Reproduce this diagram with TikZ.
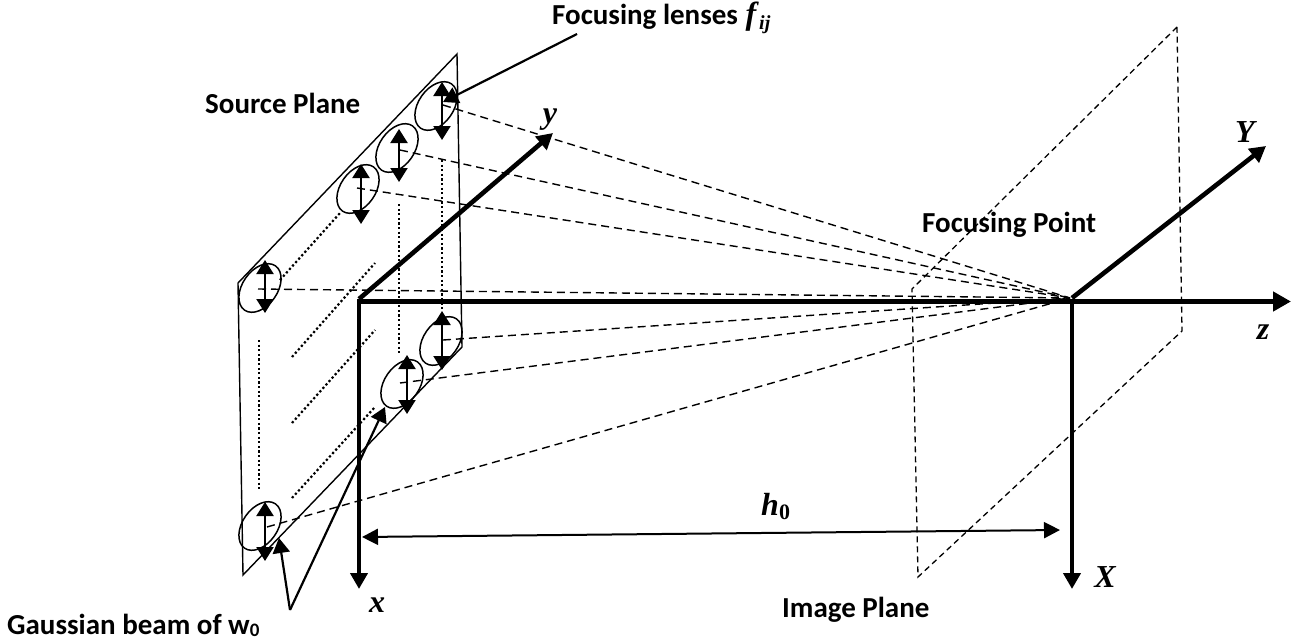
\documentclass[tikz,border=0pt]{standalone}
\usepackage{fontspec}
\usepackage{amsmath}
\setmainfont{Carlito}
\newfontfamily\mathlike{Liberation Serif}
\usetikzlibrary{arrows.meta,shapes.geometric}
\tikzset{
 plane/.style={line width=1.4pt,line join=miter},
 imgplane/.style={line width=1.3pt,dash pattern=on 6pt off 4pt},
 ray/.style={line width=1.4pt,dash pattern=on 8pt off 5pt},
 dots/.style={line width=2.2pt,dash pattern=on 2.2pt off 2.4pt},
 axis/.style={line width=5.4pt,-{Triangle[length=18pt,width=19pt]}},
 axisb/.style={line width=4.6pt,-{Triangle[length=16pt,width=17pt]}},
 lens/.style={draw,ellipse,rotate=55,minimum width=54pt,minimum height=35pt,inner sep=0pt,line width=1.5pt},
 dbl/.style={line width=2.2pt,{Triangle[length=14pt,width=17pt]}-{Triangle[length=14pt,width=17pt]}},
 lead/.style={line width=2.2pt,-{Triangle[length=15pt,width=17pt]}},
 dim/.style={line width=2pt,{Triangle[length=16pt,width=16pt]}-{Triangle[length=16pt,width=16pt]}},
 lab/.style={font=\bfseries\fontsize{29}{32}\selectfont,inner sep=0pt},
 mlab/.style={font=\mathlike\bfseries\itshape\fontsize{32}{34}\selectfont,inner sep=0pt},
}
\begin{document}
\begin{tikzpicture}[x=1pt,y=-1pt]
\useasboundingbox (0,0) rectangle (1301,642);
% source plane
\coordinate (s1) at (457,54); \coordinate (s2) at (238,283);
\coordinate (s3) at (243,575); \coordinate (s4) at (462,347);
\draw[plane] (s1) -- (s2) -- (s3) -- (s4) -- cycle;
% image plane
\coordinate (i1) at (1177,27); \coordinate (i2) at (912,289);
\coordinate (i3) at (918,577); \coordinate (i4) at (1182,331);
\draw[imgplane] (i1) -- (i2) -- (i3) -- (i4) -- cycle;
% lenses
\node[lens] (L1) at (436,106) {};
\node[lens] (L2) at (397,148) {};
\node[lens] (L3) at (358,189) {};
\node[lens] (L4) at (260,288) {};
\node[lens] (L5) at (260,526) {};
\node[lens] (L6) at (402,384) {};
\node[lens] (L7) at (441,341) {};
% lens arrows
\foreach \n/\x/\a/\b in {a/442/82/140,b/399/129/182,c/361/164/224,d/265/260/313,e/265/502/561,f/407/355/414,g/442/311/370}{
 \coordinate (t\n) at (\x,\a); \coordinate (u\n) at (\x,\b);
 \draw[dbl] (t\n) -- (u\n);
}
% focus and rays
\coordinate (F) at (1070,298);
\foreach \n/\x/\y in {a/443/105,b/400/150,c/357/188,d/258/289,e/267/527,f/400/383,g/443/340}{
 \coordinate (r\n) at (\x,\y);
 \draw[ray] (r\n) -- (F);
}
% dotted guides
\foreach \n/\xa/\ya/\xb/\yb in {a/280/280/340/213,b/399/204/399/355,c/442/160/442/310,d/259/340/259/490,e/292/357/375/263,f/292/423/375/330,g/292/498/375/407}{
 \coordinate (p\n) at (\xa,\ya); \coordinate (q\n) at (\xb,\yb);
 \draw[dots] (p\n) -- (q\n);
}
% axes
\coordinate (O) at (359,299); \coordinate (Oa) at (357,301.5);
\coordinate (P) at (1072,298); \coordinate (Pa) at (1072,301);
\coordinate (ztip) at (1291,301.5); \coordinate (xtip) at (359,589);
\coordinate (ytip) at (553,133); \coordinate (Ytip) at (1266,146);
\coordinate (Xtip) at (1072,589);
\draw[axis] (Oa) -- (ztip);
\draw[axisb] (O) -- (xtip);
\draw[axisb] (O) -- (ytip);
\draw[axisb] (P) -- (Ytip);
\draw[axisb] (Pa) -- (Xtip);
% h0
\coordinate (h1) at (362,537); \coordinate (h2) at (1060,530);
\draw[dim] (h1) -- (h2);
% leaders
\node[lab,anchor=base west] (fl) at (552,25) {Focusing lenses \hspace{1pt}{\mathlike\itshape\fontsize{32}{34}\selectfont f}\hspace{3pt}\raisebox{-5pt}{\mathlike\itshape\fontsize{20}{20}\selectfont ij}};
\coordinate (lf) at (577,34); \coordinate (lt) at (443,102);
\draw[lead] (lf) -- (lt);
\coordinate (g0) at (290,610); \coordinate (g1) at (279,538); \coordinate (g2) at (385,407);
\draw[lead] (g0) -- (g1);
\draw[lead] (g0) -- (g2);
% labels
\node[lab,anchor=base west] (sp) at (205,113) {Source Plane};
\node[lab,anchor=base west] (fp) at (922,232) {Focusing Point};
\node[lab,anchor=base west] (ip) at (782,617) {Image Plane};
\node[lab,anchor=base west] (gb) at (7,634) {Gaussian beam of w\raisebox{-2.5pt}{\fontsize{19}{20}\selectfont 0}};
\node[mlab] (ly) at (550,120) {y};
\node[mlab] (lx) at (377,605) {x};
\node[mlab] (lX) at (1105,577) {X};
\node[mlab] (lY) at (1245,132) {Y};
\node[mlab] (lz) at (1263,332) {z};
\node[mlab,anchor=base west] (lh) at (761,515) {h\raisebox{-4pt}{\upshape\fontsize{22}{22}\selectfont 0}};
\end{tikzpicture}
\end{document}
